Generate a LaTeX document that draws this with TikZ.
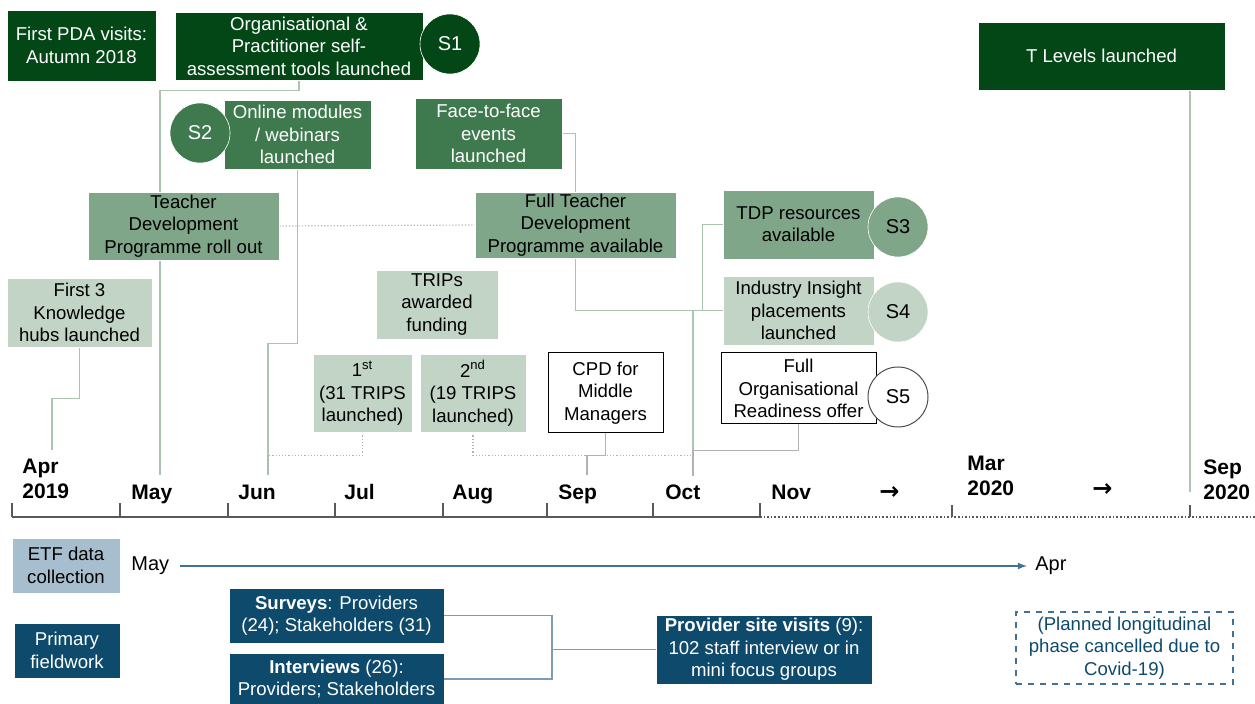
\documentclass[tikz,border=0pt]{standalone}
\usepackage{fontspec}
\setmainfont{Liberation Sans}
\newfontfamily\arrowfont{DejaVu Sans}
\usetikzlibrary{backgrounds}
\definecolor{darkgr}{RGB}{3,71,22}
\definecolor{midgr}{RGB}{62,122,78}
\definecolor{sagegr}{RGB}{127,166,136}
\definecolor{palegr}{RGB}{194,212,198}
\definecolor{linegr}{RGB}{172,197,178}
\definecolor{navy}{RGB}{14,74,108}
\definecolor{steel}{RGB}{167,190,206}
\definecolor{arrowbl}{RGB}{65,113,150}
\definecolor{axisgr}{RGB}{89,89,89}
\tikzset{sz/.style 2 args={minimum width=#1*0.5pt, minimum height=#2*0.5pt}}

\begin{document}
\begin{tikzpicture}[x=0.5pt, y=-0.5pt, >=latex,
  box/.style={rectangle, align=center, inner sep=1pt, draw=white, line width=0.3pt,
    font=\fontsize{9.3}{11.2}\selectfont},
  dark/.style={box, fill=darkgr, text=white},
  mid/.style={box, fill=midgr, text=white},
  sage/.style={box, fill=sagegr},
  pale/.style={box, fill=palegr},
  plain/.style={box, fill=white, draw=black, line width=0.5pt},
  blue/.style={box, fill=navy, text=white},
  badge/.style={circle, minimum size=30pt, inner sep=0pt, draw=white, line width=0.3pt,
    font=\fontsize{10}{12}\selectfont},
  month/.style={font=\bfseries\fontsize{10.5}{12.5}\selectfont, inner sep=0pt, align=left},
  goon/.style={font=\arrowfont\bfseries\fontsize{12}{12}\selectfont, anchor=base west, inner sep=0pt},
  conn/.style={draw=linegr, line width=0.7pt},
  conngray/.style={draw=black!30, line width=0.7pt},
  dotline/.style={draw=black!30, line width=0.6pt, densely dotted},
  axis/.style={draw=axisgr, line width=1pt}]

\useasboundingbox (0,0) rectangle (1255,704);

% Milestone boxes
\node[dark, sz={149}{71}] (pda) at (81.5,45.5) {First PDA visits:\\Autumn 2018};
\node[dark, sz={248}{68}] (org) at (299,46) {Organisational \&\\Practitioner self-\\assessment tools launched};
\node[badge, fill=darkgr, text=white] (s1) at (450,44) {S1};
\node[mid, sz={147}{69}] (online) at (297.5,134.5) {Online modules\\/ webinars\\launched};
\node[badge, fill=midgr, text=white] (s2) at (200,133) {S2};
\node[mid, sz={147}{71}] (face) at (488.5,133.5) {Face-to-face\\events\\launched};
\node[sage, sz={191}{68}] (tdp) at (183.5,226) {Teacher\\Development\\Programme roll out};
\node[sage, sz={201}{66}] (fulltdp) at (575.5,225) {Full Teacher\\Development\\Programme available};
\node[sage, sz={151}{69}] (tdpres) at (798.5,224.5) {TDP resources\\available};
\node[badge, fill=sagegr] (s3) at (898,227) {S3};
\node[pale, sz={145}{69}] (hubs) at (79.5,312.5) {First 3\\Knowledge\\hubs launched};
\node[pale, sz={122}{69}] (trips) at (437,304.5) {TRIPs\\awarded\\funding};
\node[pale, sz={151}{69}] (insight) at (798.5,310.5) {Industry Insight\\placements\\launched};
\node[badge, fill=palegr] (s4) at (898,312) {S4};
\node[pale, sz={99}{78}] (first) at (362.5,393) {1\textsuperscript{st}\\(31 TRIPS\\launched)};
\node[pale, sz={106}{78}] (second) at (473,393) {2\textsuperscript{nd}\\(19 TRIPS\\launched)};
\node[plain, sz={115}{80}] (cpd) at (605.5,393) {CPD for\\Middle\\Managers};
\node[plain, sz={155}{71}] (readiness) at (798.5,388.5) {Full\\Organisational\\Readiness offer};
\node[badge, fill=white, draw=black!70, line width=0.5pt] (s5) at (898,397) {S5};
\node[dark, sz={247}{68}] (tlevels) at (1101.5,56) {T Levels launched};

% Ends of the date lines
\coordinate (aprtop) at (52,450);
\coordinate (maytop) at (160,475);
\coordinate (juntop) at (268,475);
\coordinate (septop) at (587,475);
\coordinate (octtop) at (693,475);
\coordinate (sep20top) at (1190,492);

% Connectors behind the boxes
\begin{scope}[on background layer]
  \draw[conn] (hubs.south) -- ++(0,51) -| (aprtop);
  \draw[conn] (org.south) -- ++(0,10) -| (maytop);
  \draw[conn] (online.south) -- ++(0,174) -| (juntop);
  \draw[conn] (face.east) -| (fulltdp.north);
  \draw[conn] (fulltdp.south) |- (insight.west);
  \draw[conn] (tdpres.west) -- ++(-20,0) |- (insight.west);
  \draw[conn] (octtop) |- (insight.west);
  \draw[conn] (tlevels.south -| sep20top) -- (sep20top);
  \draw[conngray] (readiness.south) -- ++(0,26) -| (octtop);
  \draw[conngray] (cpd.south) -- ++(0,22) -| (septop);
  \draw[dotline] (tdp.east) -- (fulltdp.west);
  \draw[dotline] (first.south) -- ++(0,23) -| (juntop);
  \draw[dotline] (second.south) -- ++(0,23) -| (octtop);
\end{scope}

% Time axis
\draw[axis] (12,517) -- (760,517);
\draw[draw=axisgr, line width=0.8pt, densely dotted] (760,517) -- (1255,517);
\foreach \t in {12,120,228,335,443,547,653,760} {
  \draw[axis] (\t,517) -- (\t,503);
}
\foreach \t in {952,1190} {
  \draw[draw=axisgr, line width=0.6pt] (\t,517) -- (\t,505);
}

% Month labels
\node[month, anchor=north west] (lapr) at (22,459) {Apr\\2019};
\foreach \x/\m in {131/May,238/Jun,344/Jul,452/Aug,558/Sep,665/Oct,771/Nov} {
  \node[month, anchor=base west] (l\m) at (\x,500) {\m};
}
\node[month, anchor=north west] (lmar) at (967,456) {Mar\\2020};
\node[month, anchor=north west] (lsep) at (1203,459) {Sep\\2020};
\node[goon] (arrA) at (879,500) {→};
\node[goon] (arrB) at (1092,497) {→};

% Data collection rows
\node[box, fill=steel, sz={108}{55}] (etf) at (66,565.5) {ETF data\\collection};
\node[anchor=west, inner sep=0pt, font=\fontsize{10}{12}\selectfont] (etfmay) at (131,566) {May};
\node[anchor=west, inner sep=0pt, font=\fontsize{10}{12}\selectfont] (etfapr) at (1035,566) {Apr};
\draw[->, draw=arrowbl, line width=0.6pt] ([xshift=5pt]etfmay.east) -- ([xshift=-4pt]etfapr.west);
\node[blue, sz={106}{55}] (primary) at (67,650.5) {Primary\\fieldwork};
\node[blue, sz={215}{55}] (surveys) at (336.5,615.5) {\textbf{Surveys}: Providers\\(24); Stakeholders (31)};
\node[blue, sz={215}{52}] (interviews) at (336.5,679) {\textbf{Interviews} (26):\\Providers; Stakeholders};
\node[blue, sz={216}{69}] (visits) at (764,649.5) {\textbf{Provider site visits} (9):\\102 staff interview or in\\mini focus groups};
\node[box, draw=arrowbl, dashed, line width=0.6pt, text=navy, sz={217}{72}] (planned) at (1124.5,648)
  {(Planned longitudinal\\phase cancelled due to\\Covid-19)};
\coordinate (join) at (552,649.5);
\draw[draw=arrowbl!70, line width=0.6pt] (surveys.east) -| (join) |- (interviews.east);
\draw[draw=arrowbl!70, line width=0.6pt] (join) -- (visits.west);

\end{tikzpicture}
\end{document}
